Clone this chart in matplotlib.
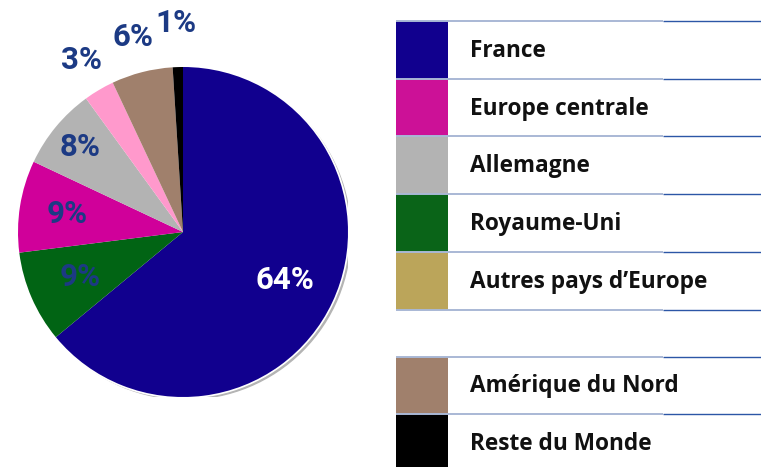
import numpy as np
import matplotlib
matplotlib.use("Agg")
import matplotlib.pyplot as plt
from matplotlib.patches import Circle, Rectangle

# Pie slices, clockwise from the top
slice_values = [64, 9, 9, 8, 3, 6, 1]
slice_colors = ["#11008e", "#016414", "#d0009a", "#b3b3b3", "#ff99cc", "#a0806c", "#000000"]
label_dist = [0.68, 0.68, 0.71, 0.81, 1.21, 1.22, 1.27]
label_colors = ["white"] + ["#1c3a84"] * 6

# Legend entries (two groups)
legend_names = ["France", "Europe centrale", "Allemagne", "Royaume-Uni",
                "Autres pays d\u2019Europe", "Amérique du Nord", "Reste du Monde"]
legend_colors = ["#11008e", "#cc1197", "#b3b3b3", "#0a6418",
                 "#bba55a", "#a0806c", "#000000"]
legend_group = [0, 0, 0, 0, 0, 1, 1]

W, H = 761, 467
fig = plt.figure(figsize=(W / 100, H / 100), dpi=100)

# ---- pie ----
cx, cy, R = 183, 232, 165
ax = fig.add_axes([(cx - R) / W, (H - cy - R) / H, 2 * R / W, 2 * R / H])

ax.add_patch(Circle((0.016, -0.014), 1.0, color="#b4b4b4", zorder=0))
ax.add_patch(Circle((0.0, 0.0), 1.006, color="white", zorder=0.5))
wedges, _ = ax.pie(slice_values, colors=slice_colors, startangle=90,
                   counterclock=False, radius=1.0,
                   wedgeprops=dict(linewidth=0))
for w in wedges:
    w.set_zorder(1)
ax.set_xlim(-1, 1)
ax.set_ylim(-1, 1)
ax.set_aspect("equal")
ax.axis("off")

total = float(sum(slice_values))
start = 90.0
for val, d, col in zip(slice_values, label_dist, label_colors):
    mid = np.deg2rad(start - 360.0 * val / total / 2)
    start -= 360.0 * val / total
    ax.text(d * np.cos(mid), d * np.sin(mid), f"{val}%", ha="center", va="center",
            fontsize=22.5, fontweight="bold", family="Roboto", color=col, zorder=3,
            clip_on=False)

# ---- legend table ----
lx = fig.add_axes([0, 0, 1, 1])
lx.set_xlim(0, W)
lx.set_ylim(H, 0)
lx.axis("off")

row_h = 57.7
box_x0, box_x1 = 396, 448
split_x = 663
group_gap = 47
y = 21.0
prev_group = 0
tops = []
for name, col, grp in zip(legend_names, legend_colors, legend_group):
    if grp != prev_group:
        # close previous group
        tops.append(y)
        y += group_gap
        prev_group = grp
    tops.append(y)
    lx.add_patch(Rectangle((box_x0, y), box_x1 - box_x0, row_h, color=col, lw=0))
    lx.text(470, y + row_h / 2 + 1, name, ha="left", va="center", fontsize=16.3,
            fontweight="bold", family="Open Sans", color="#111111")
    y += row_h
tops.append(y)

for ty in tops:
    lx.plot([box_x0, split_x], [ty, ty], color="#a9b8d5", lw=1.4, solid_capstyle="butt")
    lx.plot([split_x, W], [ty, ty], color="#2c56a6", lw=1.0, solid_capstyle="butt")

fig.savefig("out.png", dpi=100)
